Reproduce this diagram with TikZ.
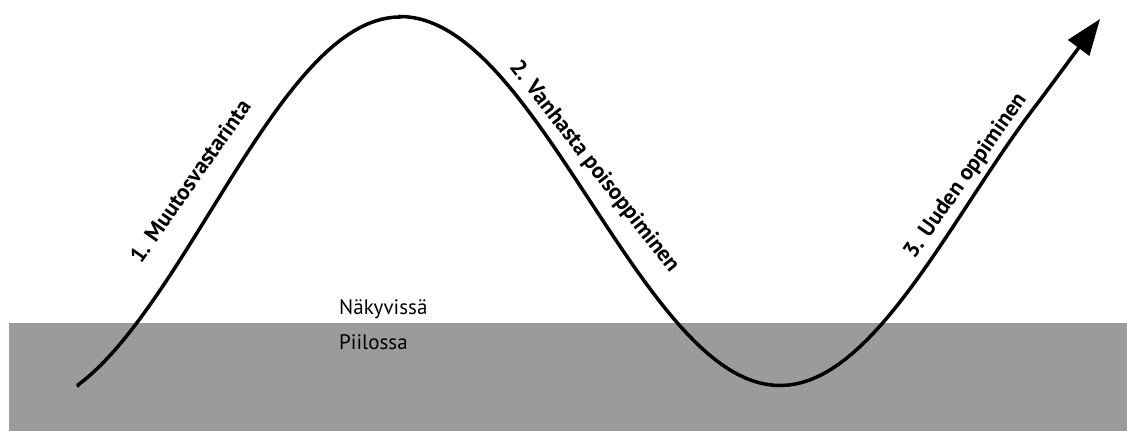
\documentclass[tikz,border=0pt]{standalone}
\usepackage{fontspec}
\setmainfont{PT Sans}
\usetikzlibrary{arrows.meta, positioning}
\definecolor{hiddengray}{RGB}{155,155,157}

\begin{document}
\begin{tikzpicture}[x=1pt, y=1pt,
    curve/.style={line width=3.5pt, line cap=round, -{Triangle[length=36pt, width=26pt]}},
    stage/.style={font=\bfseries\fontsize{22.5}{26}\selectfont, inner sep=0pt},
    layer/.style={font=\fontsize{21}{25}\selectfont, anchor=base west, inner sep=0pt}]
    \useasboundingbox (0,0) rectangle (1127,431);
    \fill[hiddengray] (9,0) rectangle (1127,108);

    \node[layer] (visible) at (339,116) {Näkyvissä};
    \node[layer] (hidden) at (339,81) {Piilossa};

    \coordinate (start) at (78,45);
    \coordinate (tip) at (1100,412);
    \draw[curve] (start) -- plot[domain=78:400, samples=50] (\x, {219+195*cos((\x-400)/380*180)})
        -- plot[domain=400:1040, samples=90] (\x, {230+184.5*cos((\x-400)/380*180)}) -- (tip);

    \node[stage, rotate=55] (stage1) at (190,250) {1. Muutosvastarinta};
    \node[stage, rotate=-52] (stage2) at (594,264) {2. Vanhasta poisoppiminen};
    \node[stage, rotate=55] (stage3) at (966,255) {3. Uuden oppiminen};
\end{tikzpicture}
\end{document}
